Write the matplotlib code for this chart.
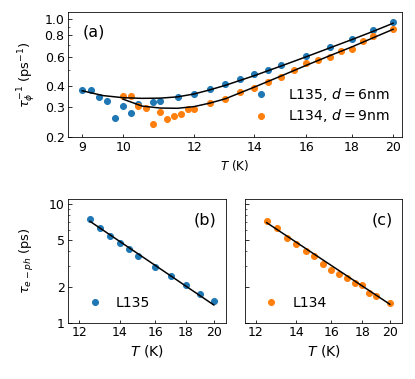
import matplotlib
matplotlib.use('Agg')
import matplotlib.pyplot as plt
from matplotlib.ticker import FixedLocator, NullFormatter, NullLocator, FormatStrFormatter

# (a) dephasing rate, L135 (d = 6 nm)
T_a135 = [9.0, 9.2, 9.4, 9.6, 9.8, 10.0, 10.2, 10.4, 10.8, 11.0, 11.5, 12.0, 12.5,
          13.0, 13.5, 14.0, 14.5, 15.0, 16.0, 17.0, 18.0, 19.0, 20.0]
r_a135 = [0.382, 0.382, 0.347, 0.327, 0.259, 0.307, 0.278, 0.313, 0.323, 0.326, 0.346,
          0.359, 0.386, 0.415, 0.440, 0.471, 0.502, 0.538, 0.605, 0.685, 0.764, 0.860, 0.960]
# (a) dephasing rate, L134 (d = 9 nm)
T_a134 = [10.0, 10.2, 10.4, 10.6, 10.8, 11.0, 11.2, 11.4, 11.6, 11.8, 12.0, 12.5, 13.0,
          13.5, 14.0, 14.5, 15.0, 15.5, 16.0, 16.5, 17.0, 17.5, 18.0, 18.5, 19.0, 20.0]
r_a134 = [0.348, 0.348, 0.307, 0.297, 0.238, 0.283, 0.256, 0.267, 0.274, 0.293, 0.293,
          0.318, 0.336, 0.370, 0.393, 0.425, 0.454, 0.496, 0.546, 0.571, 0.600, 0.646,
          0.667, 0.743, 0.789, 0.876]

# fit curves
Tfit_135 = [9.0, 9.5, 10.0, 10.5, 11.0, 11.5, 12.0, 12.5, 13.0, 14.0, 15.0, 16.0, 17.0, 18.0, 19.0, 20.0]
rfit_135 = [0.376, 0.352, 0.342, 0.339, 0.340, 0.346, 0.360, 0.381, 0.405, 0.462, 0.527,
            0.598, 0.675, 0.757, 0.846, 0.945]
Tfit_134 = [10.0, 10.5, 11.0, 11.5, 12.0, 12.5, 13.0, 14.0, 15.0, 16.0, 17.0, 18.0, 19.0, 20.0]
rfit_134 = [0.335, 0.305, 0.297, 0.296, 0.303, 0.318, 0.337, 0.395, 0.460, 0.532, 0.607,
            0.685, 0.775, 0.870]

# (b) tau_e-ph, L135
T_b = [12.5, 13.0, 13.5, 14.0, 14.5, 15.0, 16.0, 17.0, 18.0, 19.0, 20.0]
tau_b = [7.51, 6.22, 5.37, 4.65, 4.14, 3.66, 2.97, 2.45, 2.08, 1.76, 1.52]
Tfit_b = [12.5, 20.0]
taufit_b = [7.13, 1.41]

# (c) tau_e-ph, L134
T_c = [12.5, 13.0, 13.5, 14.0, 14.5, 15.0, 15.5, 16.0, 16.5, 17.0, 17.5, 18.0, 18.5, 19.0, 20.0]
tau_c = [7.22, 6.22, 5.16, 4.59, 4.03, 3.61, 3.15, 2.77, 2.56, 2.39, 2.16, 2.07, 1.79, 1.67, 1.46]
Tfit_c = [12.5, 20.0]
taufit_c = [6.95, 1.43]

blue = '#1f77b4'
orange = '#ff7f0e'

plt.rcParams['xtick.labelsize'] = 12.5
plt.rcParams['ytick.labelsize'] = 12.5
plt.rcParams['axes.labelsize'] = 13

fig = plt.figure(figsize=(415/72, 379/72), dpi=72)
ax1 = fig.add_axes([0.164, 0.6385, 0.805, 0.3295])
ax2 = fig.add_axes([0.164, 0.1485, 0.381, 0.3265])
ax3 = fig.add_axes([0.590, 0.1485, 0.379, 0.3265], sharey=ax2)

# panel (a)
ax1.plot(T_a135, r_a135, 'o', color=blue, ms=6, label='L135, $d = 6$nm')
ax1.plot(T_a134, r_a134, 'o', color=orange, ms=6, label='L134, $d = 9$nm')
ax1.plot(Tfit_135, rfit_135, 'k-', lw=1.5)
ax1.plot(Tfit_134, rfit_134, 'k-', lw=1.5)
ax1.set_xscale('log')
ax1.set_yscale('log')
ax1.set_xlim(8.68, 20.47)
ax1.set_ylim(0.2, 1.1)
ax1.xaxis.set_major_locator(FixedLocator([9, 10, 12, 14, 16, 18, 20]))
ax1.xaxis.set_major_formatter(FormatStrFormatter('%d'))
ax1.xaxis.set_minor_locator(NullLocator())
ax1.yaxis.set_major_locator(FixedLocator([0.2, 0.3, 0.4, 0.6, 0.8, 1.0]))
ax1.yaxis.set_major_formatter(FormatStrFormatter('%.1f'))
ax1.yaxis.set_minor_locator(FixedLocator([0.5, 0.7, 0.9]))
ax1.yaxis.set_minor_formatter(NullFormatter())
ax1.set_xlabel('$T$ (K)', fontsize=12)
ax1.set_ylabel(r'$\tau_{\phi}^{-1}$ (ps$^{-1}$)', labelpad=7)
ax1.text(0.045, 0.84, '(a)', transform=ax1.transAxes, fontsize=16, va='center')
ax1.legend(loc='lower right', frameon=False, numpoints=1, fontsize=14,
           handletextpad=0.9, labelspacing=0.35)

# panel (b)
ax2.plot(T_b, tau_b, 'o', color=blue, ms=6, label='L135')
ax2.plot(Tfit_b, taufit_b, 'k-', lw=1.5)
# panel (c)
ax3.plot(T_c, tau_c, 'o', color=orange, ms=6, label='L134')
ax3.plot(Tfit_c, taufit_c, 'k-', lw=1.5)

for ax, lab in [(ax2, '(b)'), (ax3, '(c)')]:
    ax.set_xscale('log')
    ax.set_yscale('log')
    ax.set_xlim(11.5, 20.96)
    ax.set_ylim(1, 11)
    ax.xaxis.set_major_locator(FixedLocator([12, 14, 16, 18, 20]))
    ax.xaxis.set_major_formatter(FormatStrFormatter('%d'))
    ax.xaxis.set_minor_locator(NullLocator())
    ax.yaxis.set_major_locator(FixedLocator([1, 2, 5, 10]))
    ax.yaxis.set_major_formatter(FormatStrFormatter('%d'))
    ax.yaxis.set_minor_locator(FixedLocator([3, 4, 6, 7, 8, 9]))
    ax.yaxis.set_minor_formatter(NullFormatter())
    ax.set_xlabel('$T$ (K)', fontsize=14)
    ax.text(0.94, 0.83, lab, transform=ax.transAxes, fontsize=16, ha='right', va='center')
    ax.legend(loc='lower left', frameon=False, numpoints=1, fontsize=14, handletextpad=0.5)

ax2.set_ylabel(r'$\tau_{e-ph}$ (ps)', labelpad=13)
plt.setp(ax3.get_yticklabels(), visible=False)

for ax in (ax1, ax2, ax3):
    ax.tick_params(which='both', direction='in')

fig.savefig('out.png', dpi=72)
